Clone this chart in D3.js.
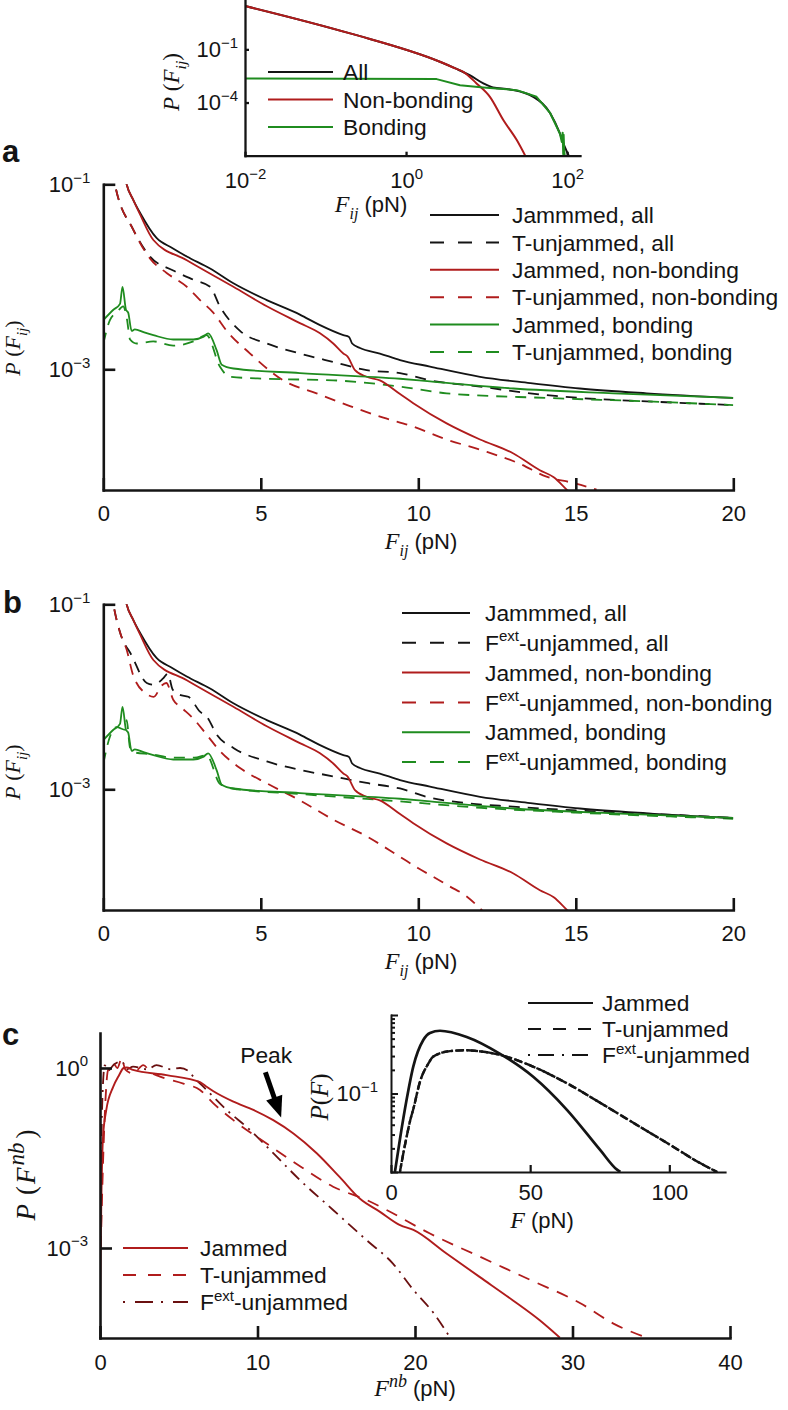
<!DOCTYPE html>
<html><head><meta charset="utf-8">
<script src="https://cdn.jsdelivr.net/npm/d3@7"></script>
<style>
body{margin:0;background:#fff;}
svg{display:block;background:#fff;}
</style></head><body>
<svg id="fig" width="788" height="1410"></svg>
<script>
// ================= DATA =================
// Top inset (log-log): force F (pN) and P(F_ij)
const insF_all = [0.01, 0.202, 2.63, 4.17, 6.17, 9.12, 12.0, 19.5, 38.0, 61.7, 81.3, 93.3, 104.7];
const insP_all = [28.2, 0.794, 0.02, 0.0081, 0.0035, 0.0012, 7.1e-4, 5.5e-4, 2.1e-4, 2.5e-5, 1.8e-6, 3.2e-7, 1e-7];
const insF_nb  = [0.01, 0.202, 2.63, 4.17, 5.13, 7.5, 11.0, 16.2, 23.7, 30.2];
const insP_nb  = [28.2, 0.794, 0.02, 0.0081, 0.0054, 0.0012, 2.1e-4, 1e-5, 7.6e-7, 1e-7];
const insF_b   = [0.01, 2.4, 4.68, 9.12, 23.7, 41.7, 61.7, 81.3, 86, 88, 89.5, 90.5, 92, 93.3];
const insP_b   = [2.3e-3, 2.1e-3, 9.5e-4, 7.1e-4, 5.0e-4, 2.1e-4, 2.5e-5, 1.8e-6, 6e-7, 2e-6, 1.2e-7, 1.5e-6, 2e-7, 1e-7];

// Panels a & b : jammed (shared)
const jamF_all = [0.65,0.74,0.95,1.17,1.69,2.2,2.65,3.39,4.13,5.19,6.24,6.88,7.62,7.8,7.9,8.15,8.78,9.42,10.37,11.96,13.55,15.13,17.25,20];
const jamP_all = [0.141,0.1,0.068,0.049,0.0263,0.0204,0.0166,0.0123,0.0085,0.0056,0.0039,0.0030,0.00234,0.00224,0.0019,0.0017,0.00148,0.00126,0.00107,8.3e-4,7.1e-4,6.2e-4,5.5e-4,4.9e-4];
const jamF_nb  = [0.65,0.74,0.95,1.17,1.59,2.65,4.13,5.19,6.24,6.88,7.30,7.62,7.75,7.99,8.36,8.78,9.42,9.84,10.9,11.96,13.02,13.86,14.3,14.71,15.0];
const jamP_nb  = [0.141,0.1,0.068,0.047,0.025,0.0151,0.0078,0.0048,0.00316,0.00245,0.0019,0.00148,0.00138,9.8e-4,8.3e-4,7.6e-4,5.4e-4,4.3e-4,2.6e-4,1.74e-4,1.23e-4,8.1e-5,6.8e-5,5.0e-5,4.0e-5];
const jamF_b   = [0,0.32,0.53,0.61,0.72,0.79,0.9,1.0,1.3,1.59,2.22,2.86,3.17,3.33,3.60,3.76,4.13,6.24,9.42,10.37,13.02,16.19,20];
const jamP_b   = [0.0034,0.0044,0.0051,0.0078,0.0044,0.0041,0.0026,0.0027,0.0025,0.00234,0.0021,0.0021,0.00224,0.00245,0.0016,0.00112,0.00102,9.1e-4,7.9e-4,7.4e-4,6.2e-4,5.5e-4,4.9e-4];

// Panel a : T-unjammed
const tunF_all = [0.3,0.37,0.95,1.48,2.22,2.86,3.39,3.70,4.34,5.19,6.24,7.30,8.36,9.42,10.37,11.96,13.55,15.13,17.25,20];
const tunP_all = [0.141,0.1,0.0324,0.0166,0.0117,0.0093,0.0078,0.0048,0.0026,0.0019,0.00148,0.0012,9.8e-4,9.1e-4,7.6e-4,6.5e-4,5.5e-4,4.9e-4,4.5e-4,4.1e-4];
const tunF_nb  = [0.3,0.37,0.95,1.48,2.01,2.65,3.07,3.49,3.92,4.66,5.71,6.77,7.83,8.89,9.84,10.9,11.96,13.23,14.07,14.92,15.66];
const tunP_nb  = [0.141,0.1,0.0324,0.0158,0.011,0.0078,0.0056,0.0041,0.0026,0.00148,7.6e-4,5.5e-4,4.0e-4,3.0e-4,2.4e-4,1.74e-4,1.35e-4,9.5e-5,6.9e-5,5.9e-5,5.0e-5];
const tunF_b   = [0,0.21,0.45,0.63,0.75,0.85,1.06,1.59,2.22,2.86,3.28,3.70,4.02,5.19,7.30,9.42,10.9,14.07,17.25,20];
const tunP_b   = [0.0019,0.0034,0.0042,0.0048,0.0035,0.0021,0.0019,0.002,0.0018,0.002,0.00234,0.00107,8.3e-4,7.9e-4,7.6e-4,6.5e-4,5.5e-4,4.9e-4,4.5e-4,4.1e-4];

// Panel b : Fext-unjammed
const extF_all = [0.25,0.32,0.53,0.9,1.38,1.6,1.9,2.05,2.2,2.43,2.7,3.07,3.3,3.60,4.13,5.19,6.24,7.30,8.36,9.42,10.37,11.5,13,15,17.5,20];
const extP_all = [0.141,0.1,0.05,0.028,0.0141,0.0135,0.0158,0.0178,0.012,0.0105,0.01,0.0069,0.006,0.0039,0.0028,0.002,0.00162,0.00138,0.00117,0.00102,8.1e-4,7.1e-4,6.5e-4,5.9e-4,5.4e-4,4.9e-4];
const extF_nb  = [0.25,0.32,0.53,0.74,0.95,1.38,1.6,1.85,2.0,2.22,2.49,2.86,3.28,3.70,4.34,5.19,6.24,7.30,8.36,9.42,10.0,10.5,11.0,11.5,12.0,12.3];
const extP_nb  = [0.141,0.1,0.05,0.0324,0.017,0.0107,0.01,0.0132,0.0141,0.0093,0.0076,0.0058,0.0039,0.0026,0.0017,0.00116,7.6e-4,4.7e-4,3.1e-4,1.86e-4,1.4e-4,1.12e-4,8.9e-5,7.1e-5,5.0e-5,4.0e-5];
const extF_b   = [0,0.21,0.42,0.7,0.74,0.85,1.0,1.5,2.2,2.9,3.28,3.7,4.1,6.24,9.42,12,15,20];
const extP_b   = [0.0019,0.0037,0.0047,0.0044,0.0056,0.0028,0.0025,0.0024,0.0022,0.0022,0.00234,0.00115,0.00102,8.9e-4,7.4e-4,6.3e-4,5.6e-4,4.8e-4];

// Panel c : non-bonding force per particle
const cF_jam = [0,0.08,0.19,0.4,0.83,1.2,1.5,1.69,2.1,4.23,6.35,6.7,7.2,8.47,9.74,11.0,12.28,13.76,15.24,16.51,17.78,19.05,19.9,22.0,24.1,26.2,27.9,29.2];
const cP_jam = [8e-5,0.005,0.07,0.2,0.48,0.75,1.0,1.02,0.93,0.76,0.58,0.5,0.41,0.275,0.2,0.135,0.081,0.038,0.015,0.0066,0.004,0.0024,0.002,8.1e-4,3.3e-4,1.35e-4,6.3e-5,3.2e-5];
const cF_tun = [0.05,0.2,0.35,0.5,0.85,1.1,1.38,1.6,2.1,2.75,3.2,3.81,5.29,6.35,7.2,8.47,10.58,12.7,14.8,16.93,18.2,20.95,24.1,27.3,30.5,32.6,34.7];
const cP_tun = [1e-3,0.03,0.3,0.9,1.2,1.0,1.45,0.95,0.81,1.12,0.85,0.72,0.55,0.43,0.257,0.135,0.055,0.023,0.0105,0.0063,0.0043,0.00174,7.2e-4,2.95e-4,1.2e-4,5.5e-5,3.2e-5];
const cF_ext = [0.05,0.15,0.3,0.5,0.9,1.38,1.7,2.1,3.0,3.59,4.5,5.08,5.6,5.92,6.77,8.04,9.52,11.0,12.7,14.8,16.93,18.6,19.9,21.2,22.2];
const cP_ext = [0.01,0.3,1.1,0.9,1.15,1.3,0.95,1.05,0.95,1.12,0.95,1.0,0.9,0.72,0.43,0.2,0.093,0.038,0.0135,0.0043,0.00135,5.5e-4,2.0e-4,8.1e-5,3.3e-5];

// Panel c inset : total force
const icF_jam = [1.4,3.2,5.6,8.0,11.6,14,17.6,27.2,39.2,51.2,63.2,75.2,81.2,82.4];
const icP_jam = [0.01,0.026,0.083,0.22,0.48,0.59,0.63,0.525,0.32,0.162,0.062,0.019,0.0107,0.01];
const icF_unj = [3.2,4.5,5.6,7,8,10.4,13.4,15.2,21.2,27,33.2,39.2,51.2,63.2,75.2,87.2,99.2,111.2,117.2];
const icP_unj = [0.01,0.0178,0.028,0.047,0.063,0.141,0.24,0.295,0.347,0.355,0.34,0.31,0.219,0.135,0.076,0.042,0.0234,0.0129,0.01];

// tick values
const insXTicks = [1e-2, 1e0, 1e2], insYTicks = [1e-1, 1e-4];
const abXTicks = [0, 5, 10, 15, 20], abYTicks = [1e-1, 1e-3];
const cXTicks = [0, 10, 20, 30, 40], cYTicks = [1e0, 1e-3];
const icXTicks = [0, 50, 100];

// ================= DRAWING =================
const SANS = '"Liberation Sans", Arial, Helvetica, sans-serif';
const SERIF = '"Liberation Serif", "Times New Roman", serif';
const K = "#141414", RED = "#b01c1c", GRN = "#1f8c1f", DRED = "#6a1010";
const svg = d3.select("#fig");
let clipN = 0;

function rich(g, x, y, segs, o) {
  const t = g.append("text").attr("x", x).attr("y", y).attr("font-size", o.fs)
    .attr("font-family", SANS).attr("fill", K).attr("text-anchor", o.anchor || "start");
  if (o.rot) t.attr("transform", `rotate(-90,${o.rot[0]},${o.rot[1]})`);
  let cur = 0;
  segs.forEach(s => {
    const sh = s.sub ? o.fs * 0.3 : s.sup ? -o.fs * 0.42 : 0;
    const ts = t.append("tspan").text(s.t).attr("dy", sh - cur);
    if (s.dx) ts.attr("dx", s.dx);
    cur = sh;
    if (s.sub || s.sup) ts.attr("font-size", o.fs * (s.ss || 0.68));
    if (s.it) ts.attr("font-family", SERIF).attr("font-style", "italic");
    else if (s.serif) ts.attr("font-family", SERIF);
    if (s.fs) ts.attr("font-size", s.fs);
  });
  return t;
}
function ylab(g, cx, cy, segs, fs) {
  rich(g, cx, cy + 0.34 * fs, segs, {fs, anchor: "middle", rot: [cx, cy]});
}
function supify(sel, fs) {
  sel.selectAll(".tick text").each(function(d) {
    const e = Math.round(Math.log10(d));
    const t = d3.select(this); t.text(null);
    t.append("tspan").text("10");
    t.append("tspan").attr("dy", -0.42 * fs).attr("font-size", fs * 0.68)
      .text(e < 0 ? "\u2212" + (-e) : String(e));
  });
}
function styleAx(a, fs, sw) {
  a.attr("font-size", fs).attr("font-family", SANS);
  a.select(".domain").attr("stroke", K).attr("stroke-width", sw).attr("stroke-linecap", "square");
  a.selectAll(".tick line").attr("stroke", K).attr("stroke-width", sw);
  a.selectAll(".tick text").attr("fill", K);
}
function axes(g, x, y, o) {
  const gx = g.append("g").attr("transform", `translate(0,${y.range()[0]})`)
    .call(d3.axisBottom(x).tickValues(o.xt).tickSizeInner(-o.tl).tickSizeOuter(0).tickPadding(o.xp));
  const gy = g.append("g").attr("transform", `translate(${x.range()[0]},0)`)
    .call(d3.axisLeft(y).tickValues(o.yt).tickSizeInner(-o.tl).tickSizeOuter(0).tickPadding(o.yp));
  styleAx(gx, o.fs, o.sw); styleAx(gy, o.fs, o.sw);
  supify(gy, o.fs);
  if (o.xlog) supify(gx, o.fs);
  return {gx, gy};
}
function plotArea(x, y) {
  const id = "clip" + (clipN++);
  const [x0, x1] = x.range(), [y0, y1] = y.range();
  svg.append("clipPath").attr("id", id).append("rect")
    .attr("x", x0).attr("y", Math.min(y0, y1)).attr("width", x1 - x0).attr("height", Math.abs(y0 - y1));
  return svg.append("g").attr("clip-path", `url(#${id})`);
}
function curve(g, x, y, xs, ys, color, dash, w, smooth, off) {
  const data = xs.map((v, i) => [v, ys[i]]);
  g.append("path").datum(data).attr("fill", "none").attr("stroke", color)
    .attr("stroke-width", w || 1.7).attr("stroke-dasharray", dash || null)
    .attr("stroke-dashoffset", off || 0)
    .attr("stroke-linejoin", "round")
    .attr("d", d3.line().x(d => x(d[0])).y(d => y(d[1])).curve(smooth ? d3.curveMonotoneX : d3.curveLinear));
}
function legend(g, items, o) {
  items.forEach((it, i) => {
    const yy = o.y0 + i * o.dy;
    g.append("line").attr("x1", o.x1).attr("x2", o.x2).attr("y1", yy).attr("y2", yy)
      .attr("stroke", it.c).attr("stroke-width", o.sw || 2).attr("stroke-dasharray", it.d || null);
    rich(g, o.tx, yy + 0.36 * o.fs, it.s, {fs: o.fs});
  });
}
const FS = 22, LFS = 22.8;
const Fij = [{t: "F", it: 1, fs: 24}, {t: "ij", it: 1, sub: 1, fs: 16}, {t: "\u00A0(pN)"}];
const PFij = [{t: "P", it: 1}, {t: "\u00A0(", serif: 1}, {t: "F", it: 1}, {t: "ij", it: 1, sub: 1}, {t: ")", serif: 1}];

// ---------- top inset ----------
{
  const x = d3.scaleLog().domain([1e-2, 10 ** 2.16]).range([245, 580]);
  const y = d3.scaleLog().domain([1e-7, 10 ** 1.785]).range([155.7, 0]);
  const p = plotArea(x, y);
  curve(p, x, y, insF_all, insP_all, K, null, 2, true);
  curve(p, x, y, insF_nb, insP_nb, RED, null, 2, true);
  curve(p, x, y, insF_b, insP_b, GRN, null, 2, false);
  axes(svg, x, y, {xt: insXTicks, yt: insYTicks, tl: 4, xp: 17, yp: 7, fs: FS, sw: 2.3, xlog: true});
  rich(svg, 371, 212, Fij, {fs: FS, anchor: "middle"});
  ylab(svg, 171, 82, PFij, 23);
  legend(svg, [
    {c: K, s: [{t: "All"}]},
    {c: RED, s: [{t: "Non-bonding"}]},
    {c: GRN, s: [{t: "Bonding"}]}
  ], {x1: 268, x2: 333, tx: 343, y0: 72, dy: 27.5, fs: LFS});
}

// ---------- panels a and b ----------
function panelAB(top, bottom, unF, unP, legItems, legOpt, ylabCy, xlabY) {
  const x = d3.scaleLinear().domain([0, 20]).range([103.3, 733.3]);
  const y = d3.scaleLog().domain([10 ** -4.305, 0.1]).range([bottom, top]);
  const p = plotArea(x, y);
  const D = "11,8";
  curve(p, x, y, unF[0], unP[0], K, D, 1.8, true);
  curve(p, x, y, unF[1], unP[1], RED, D, 1.8, true);
  curve(p, x, y, unF[2], unP[2], GRN, D, 1.8, true);
  curve(p, x, y, jamF_all, jamP_all, K, null, 1.8, true);
  curve(p, x, y, jamF_nb, jamP_nb, RED, null, 1.8, true);
  curve(p, x, y, jamF_b, jamP_b, GRN, null, 1.8, true);
  axes(svg, x, y, {xt: abXTicks, yt: abYTicks, tl: 12, xp: 15, yp: 13, fs: FS, sw: 2.6});
  rich(svg, 421, xlabY, Fij, {fs: FS, anchor: "middle"});
  ylab(svg, 13, ylabCy, PFij, 22);
  legend(svg, legItems, legOpt);
}
const DL = "14,14";
panelAB(184.3, 490, [tunF_all, tunF_nb, tunF_b], [tunP_all, tunP_nb, tunP_b], [
  {c: K, s: [{t: "Jammmed, all"}]},
  {c: K, d: DL, s: [{t: "T-unjammed, all"}]},
  {c: RED, s: [{t: "Jammed, non-bonding"}]},
  {c: RED, d: DL, s: [{t: "T-unjammed, non-bonding"}]},
  {c: GRN, s: [{t: "Jammed, bonding"}]},
  {c: GRN, d: DL, s: [{t: "T-unjammed, bonding"}]}
], {x1: 430, x2: 499, tx: 512, y0: 215, dy: 27.4, fs: LFS}, 348, 549);

const extSeg = rest => [{t: "F"}, {t: "ext", sup: 1, ss: 0.66}, {t: rest}];
panelAB(604.3, 910, [extF_all, extF_nb, extF_b], [extP_all, extP_nb, extP_b], [
  {c: K, s: [{t: "Jammmed, all"}]},
  {c: K, d: DL, s: extSeg("-unjammed, all")},
  {c: RED, s: [{t: "Jammed, non-bonding"}]},
  {c: RED, d: DL, s: extSeg("-unjammed, non-bonding")},
  {c: GRN, s: [{t: "Jammed, bonding"}]},
  {c: GRN, d: DL, s: extSeg("-unjammed, bonding")}
], {x1: 402, x2: 470, tx: 485, y0: 613, dy: 29.8, fs: LFS}, 772, 969);

// ---------- panel c ----------
{
  const x = d3.scaleLinear().domain([0, 40]).range([100, 730]);
  const y = d3.scaleLog().domain([10 ** -4.5, 10 ** 0.583]).range([1338, 1033]);
  const p = plotArea(x, y);
  curve(p, x, y, cF_ext, cP_ext, DRED, "12,6,2,6", 1.8, true);
  curve(p, x, y, cF_tun, cP_tun, RED, "12,9", 1.8, true);
  curve(p, x, y, cF_jam, cP_jam, RED, null, 1.9, true);
  axes(svg, x, y, {xt: cXTicks, yt: cYTicks, tl: 12, xp: 16, yp: 12, fs: FS, sw: 2.6});
  rich(svg, 415, 1396, [{t: "F", it: 1, fs: 24}, {t: "nb", it: 1, sup: 1, fs: 18}, {t: "\u00A0(pN)"}], {fs: FS, anchor: "middle"});
  ylab(svg, 26, 1175, [{t: "P", it: 1}, {t: "(", serif: 1, dx: 9}, {t: "F", it: 1, dx: 2}, {t: "nb", it: 1, sup: 1, ss: 0.85, dx: 2}, {t: ")", serif: 1, dx: 4}], 27);
  legend(svg, [
    {c: RED, s: [{t: "Jammed"}]},
    {c: RED, d: "13,12", s: [{t: "T-unjammed"}]},
    {c: DRED, d: "2,10,18,8", s: [{t: "F"}, {t: "ext", sup: 1, ss: 0.66}, {t: "-unjammed"}]}
  ], {x1: 123, x2: 188, tx: 200, y0: 1248, dy: 27, fs: LFS});
  // Peak annotation
  rich(svg, x(8.9), y(1.21), [{t: "Peak"}], {fs: 22.8});
  const t0 = [x(10.5), y(0.85)], t1 = [x(11.5), y(0.15)];
  const dx = t1[0] - t0[0], dy = t1[1] - t0[1], L = Math.hypot(dx, dy), ux = dx / L, uy = dy / L;
  const hl = 21, hw = 8.5, b = [t1[0] - ux * hl, t1[1] - uy * hl];
  svg.append("line").attr("x1", t0[0]).attr("y1", t0[1]).attr("x2", b[0] + ux * 2).attr("y2", b[1] + uy * 2)
    .attr("stroke", "#000").attr("stroke-width", 5);
  svg.append("path").attr("fill", "#000")
    .attr("d", `M${t1[0]},${t1[1]}L${b[0] - uy * hw},${b[1] + ux * hw}L${b[0] + uy * hw},${b[1] - ux * hw}Z`);
}

// ---------- panel c inset ----------
{
  const x = d3.scaleLinear().domain([0, 120]).range([391, 725]);
  const y = d3.scaleLog().domain([0.01, 1]).range([1172, 1015]);
  const p = plotArea(x, y);
  curve(p, x, y, icF_unj, icP_unj, K, "9,3", 2.4, true);
  curve(p, x, y, icF_unj, icP_unj, K, "7,3,2,3", 2.4, true, 5);
  curve(p, x, y, icF_jam, icP_jam, K, null, 2.7, true);
  const gx = svg.append("g").attr("transform", `translate(0,1172)`)
    .call(d3.axisBottom(x).tickValues(icXTicks).tickSizeInner(-7).tickSizeOuter(0).tickPadding(12));
  styleAx(gx, FS, 2.2);
  const gy = svg.append("g").attr("transform", `translate(391,0)`)
    .call(d3.axisLeft(y).tickValues(y.ticks()).tickSizeInner(-4).tickSizeOuter(0).tickPadding(13));
  styleAx(gy, FS, 2.0);
  gy.selectAll(".tick").each(function(d) {
    const major = Math.abs(Math.log10(d) - Math.round(Math.log10(d))) < 1e-6;
    const s = d3.select(this);
    if (major) s.select("line").attr("x2", 7);
    if (Math.abs(d - 0.1) > 1e-9) s.select("text").remove();
  });
  supify(gy, FS);
  rich(svg, 542, 1228, [{t: "F", it: 1, fs: 24}, {t: "\u00A0(pN)"}], {fs: FS, anchor: "middle"});
  ylab(svg, 319, 1097, [{t: "P", it: 1}, {t: "(", serif: 1}, {t: "F", it: 1}, {t: ")", serif: 1}], 25);
  legend(svg, [
    {c: K, s: [{t: "Jammed"}]},
    {c: K, d: "13,12", s: [{t: "T-unjammed"}]},
    {c: K, d: "2,8,16,8", s: [{t: "F"}, {t: "ext", sup: 1, ss: 0.66}, {t: "-unjammed"}]}
  ], {x1: 528, x2: 593, tx: 602, y0: 1003, dy: 26, fs: LFS});
}

// panel letters
[["a", 2, 162], ["b", 3, 613], ["c", 2, 1045]].forEach(([s, x, y]) =>
  svg.append("text").attr("x", x).attr("y", y).attr("font-family", SANS).attr("font-weight", "bold")
    .attr("font-size", 31).attr("fill", K).text(s));
</script>
</body></html>
